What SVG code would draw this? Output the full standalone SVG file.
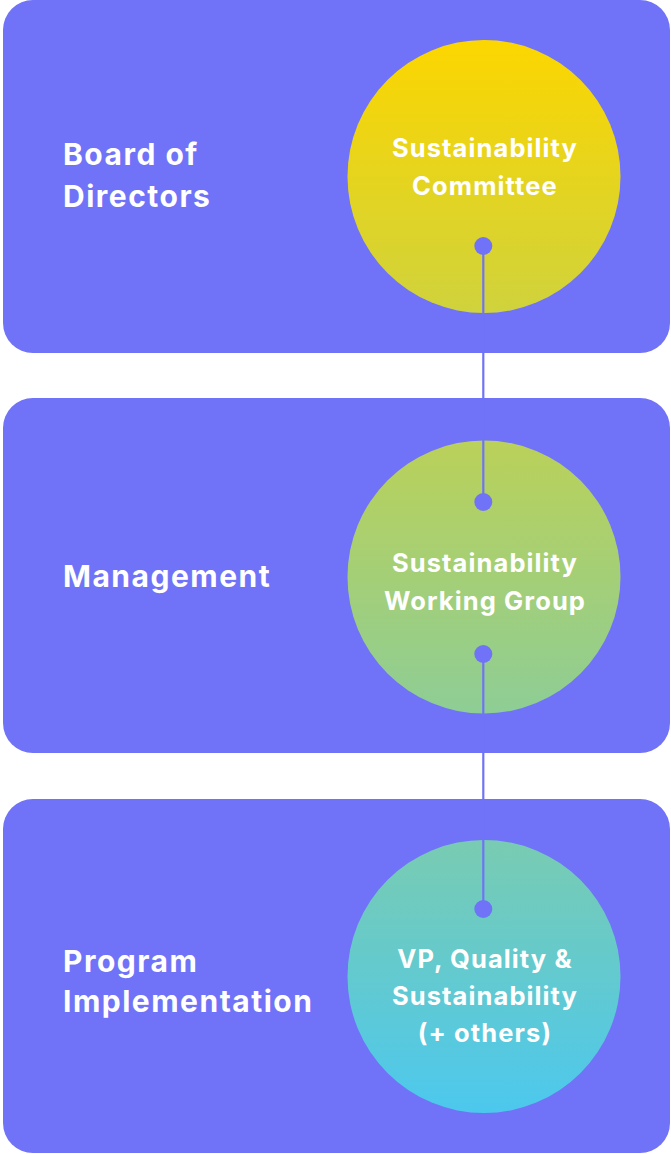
<svg xmlns="http://www.w3.org/2000/svg" width="671" height="1154" viewBox="0 0 671 1154">
  <defs>
    <!-- one continuous gradient shared by all three circles -->
    <linearGradient id="circleFill" gradientUnits="userSpaceOnUse" x1="0" y1="40" x2="0" y2="1113">
      <stop offset="0" stop-color="#FCD600"/>
      <stop offset="1" stop-color="#4CC8EE"/>
    </linearGradient>
  </defs>
  <style>
    .panel { fill: #7073F7; }
    .bubble { fill: url(#circleFill); }
    .label { font-family: Inter, "Liberation Sans", sans-serif; font-weight: 700; fill: #FFFFFF; }
    .side { font-size: 30px; letter-spacing: 1.5px; }
    .inner { font-size: 25.5px; letter-spacing: 1.1px; text-anchor: middle; }
    .link { stroke: #7073F7; stroke-width: 2.2; fill: none; }
    .dot { fill: #7073F7; }
  </style>

  <g id="board">
    <rect class="panel" x="3" y="0" width="667" height="353" rx="30"/>
    <text class="label side" x="63" y="165">Board of</text>
    <text class="label side" x="63" y="207">Directors</text>
  </g>

  <g id="management">
    <rect class="panel" x="3" y="398" width="667" height="355" rx="30"/>
    <text class="label side" x="63" y="587">Management</text>
  </g>

  <g id="program">
    <rect class="panel" x="3" y="799" width="667" height="354" rx="30"/>
    <text class="label side" x="63" y="972">Program</text>
    <text class="label side" x="63" y="1012">Implementation</text>
  </g>

  <g id="committee">
    <circle class="bubble" cx="484" cy="176.5" r="136.5"/>
    <text class="label inner" x="485" y="157">Sustainability</text>
    <text class="label inner" x="485" y="195">Committee</text>
  </g>

  <g id="working-group">
    <circle class="bubble" cx="484" cy="577" r="136.5"/>
    <text class="label inner" x="485" y="572">Sustainability</text>
    <text class="label inner" x="485" y="610">Working Group</text>
  </g>

  <g id="vp-quality">
    <circle class="bubble" cx="484" cy="976.5" r="136.5"/>
    <text class="label inner" x="485" y="968">VP, Quality &amp;</text>
    <text class="label inner" x="485" y="1005">Sustainability</text>
    <text class="label inner" x="485" y="1042">(+ others)</text>
  </g>

  <g id="connectors">
    <line class="link" x1="483.3" y1="246" x2="483.3" y2="502"/>
    <circle class="dot" cx="483.3" cy="246" r="9"/>
    <circle class="dot" cx="483.3" cy="502" r="9"/>
    <line class="link" x1="483.3" y1="654" x2="483.3" y2="909"/>
    <circle class="dot" cx="483.3" cy="654" r="9"/>
    <circle class="dot" cx="483.3" cy="909" r="9"/>
  </g>
</svg>
